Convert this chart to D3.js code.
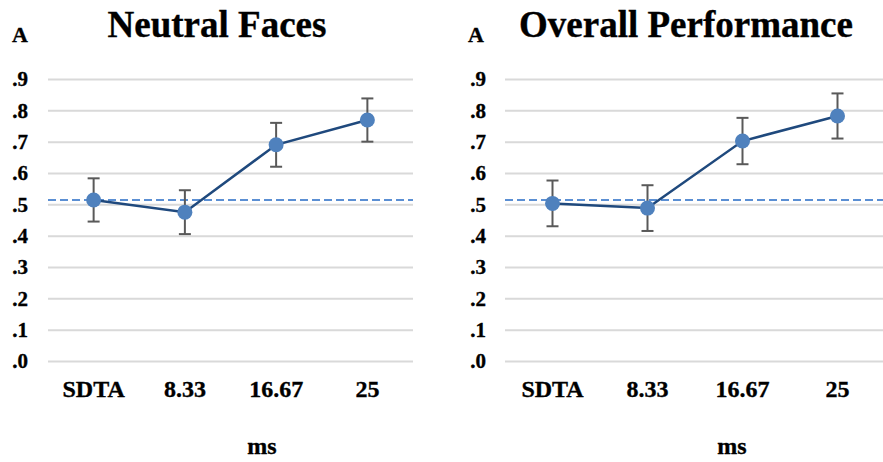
<!DOCTYPE html>
<html>
<head>
<meta charset="utf-8">
<style>
  body { margin: 0; background: #fff; }
  svg { display: block; }
  svg text { font-family: "Liberation Serif", "Times New Roman", Times, serif; font-weight: bold; fill: #000; stroke: #000; stroke-width: 0.35px; }
</style>
</head>
<body>
<div id="chart"></div>
<script src="https://d3js.org/d3.v7.min.js"></script>
<script>
// values
var categories = ["SDTA", "8.33", "16.67", "25"];
var yTicks = [0, 0.1, 0.2, 0.3, 0.4, 0.5, 0.6, 0.7, 0.8, 0.9];
var yTickLabels = [".0", ".1", ".2", ".3", ".4", ".5", ".6", ".7", ".8", ".9"];

var neutralMeans = [0.514, 0.475, 0.690, 0.769];
var neutralErr   = [0.069, 0.070, 0.070, 0.069];
var neutralChance = 0.514;

var overallMeans = [0.503, 0.488, 0.702, 0.782];
var overallErr   = [0.073, 0.073, 0.074, 0.072];
var overallChance = 0.514;

var W = 883, H = 462;

var svg = d3.select("#chart").append("svg")
    .attr("width", W)
    .attr("height", H);

function drawPanel(p) {
  var x = d3.scaleBand().domain(categories).range([p.left, p.right]);
  var y = d3.scaleLinear().domain([0, 0.9]).range([361, 79]);
  var g = svg.append("g");

  // gridlines
  g.append("g")
    .attr("transform", "translate(" + p.left + ",0)")
    .call(d3.axisLeft(y).tickValues(yTicks).tickSize(-(p.right - p.left)).tickFormat(""))
    .call(function(a) {
      a.select(".domain").remove();
      a.selectAll("line").attr("stroke", "#d9d9d9").attr("stroke-width", 2);
    });

  // y tick labels
  g.selectAll(".ylab")
    .data(yTicks)
    .enter().append("text")
      .attr("x", p.tickX)
      .attr("y", function(d) { return y(d); })
      .attr("dy", "0.35em")
      .attr("text-anchor", "end")
      .style("font-size", "21px")
      .text(function(d, i) { return yTickLabels[i]; });

  // x labels
  g.selectAll(".xlab")
    .data(categories)
    .enter().append("text")
      .attr("x", function(d) { return x(d) + x.bandwidth() / 2; })
      .attr("y", 397)
      .attr("text-anchor", "middle")
      .style("font-size", "24px")
      .text(function(d) { return d; });

  // chance line
  g.append("line")
    .attr("x1", p.left).attr("x2", p.right)
    .attr("y1", y(p.chance)).attr("y2", y(p.chance))
    .attr("stroke", "#5b8fd3")
    .attr("stroke-width", 2)
    .attr("stroke-dasharray", "8,4");

  var pts = categories.map(function(c, i) { return { c: c, m: p.means[i], e: p.err[i] }; });
  var cx = function(d) { return x(d.c) + x.bandwidth() / 2; };

  // error bars
  var eb = g.selectAll(".eb").data(pts).enter().append("g")
    .attr("stroke", "#595959").attr("stroke-width", 2);
  eb.append("line")
    .attr("x1", cx).attr("x2", cx)
    .attr("y1", function(d) { return y(d.m + d.e); })
    .attr("y2", function(d) { return y(d.m - d.e); });
  eb.append("line")
    .attr("x1", function(d) { return cx(d) - 6; }).attr("x2", function(d) { return cx(d) + 6; })
    .attr("y1", function(d) { return y(d.m + d.e); })
    .attr("y2", function(d) { return y(d.m + d.e); });
  eb.append("line")
    .attr("x1", function(d) { return cx(d) - 6; }).attr("x2", function(d) { return cx(d) + 6; })
    .attr("y1", function(d) { return y(d.m - d.e); })
    .attr("y2", function(d) { return y(d.m - d.e); });

  // line
  g.append("path")
    .datum(pts)
    .attr("fill", "none")
    .attr("stroke", "#1f497d")
    .attr("stroke-width", 2.5)
    .attr("d", d3.line().x(cx).y(function(d) { return y(d.m); }));

  // markers
  g.selectAll(".dot").data(pts).enter().append("circle")
    .attr("cx", cx)
    .attr("cy", function(d) { return y(d.m); })
    .attr("r", 7.5)
    .attr("fill", "#4f81bd");

  // title, panel letter, axis title
  g.append("text")
    .attr("x", p.titleX).attr("y", 37)
    .attr("text-anchor", "middle")
    .style("font-size", "37px")
    .text(p.title);
  g.append("text")
    .attr("x", p.letterX).attr("y", 42)
    .style("font-size", "22px")
    .text("A");
  g.append("text")
    .attr("x", p.msX).attr("y", 454)
    .attr("text-anchor", "middle")
    .style("font-size", "24px")
    .text("ms");
}

drawPanel({ left: 48, right: 413, tickX: 28, titleX: 217, letterX: 12, msX: 262,
            title: "Neutral Faces", means: neutralMeans, err: neutralErr, chance: neutralChance });
drawPanel({ left: 505, right: 885, tickX: 486, titleX: 686, letterX: 468, msX: 732,
            title: "Overall Performance", means: overallMeans, err: overallErr, chance: overallChance });
</script>
</body>
</html>
